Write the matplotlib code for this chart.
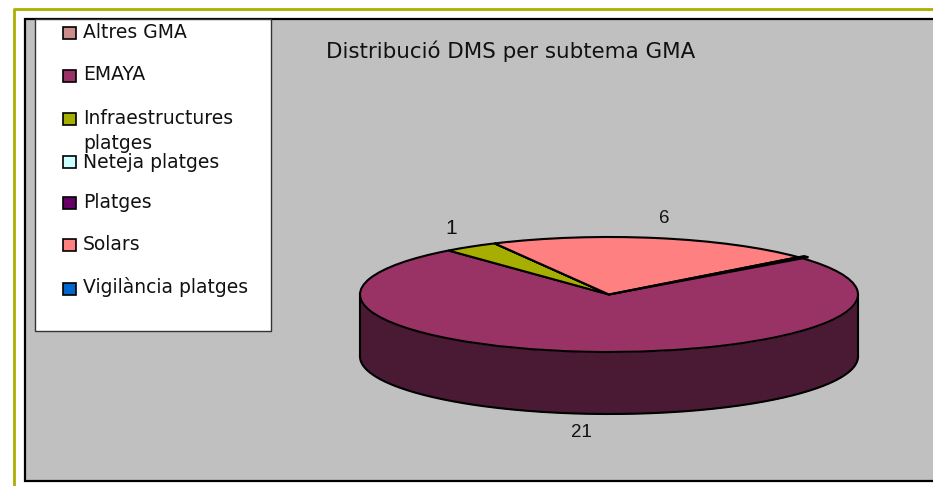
import numpy as np
import matplotlib
matplotlib.use("Agg")
import matplotlib.pyplot as plt
from matplotlib.patches import Rectangle
from matplotlib.lines import Line2D

categories = ["Altres GMA", "EMAYA", "Infraestructures\nplatges", "Neteja platges",
              "Platges", "Solars", "Vigilància platges"]
values = [0.12, 21, 1, 0, 0, 6, 0]
explode = [0.03, 0, 0, 0, 0, 0, 0]
value_labels = {"1": (451, 228), "6": (664, 218), "21": (581, 432)}
colors = ["#CC8C8C", "#993366", "#A6AF00", "#CCFFFF", "#660066", "#FF8080", "#0066CC"]
side_color = "#4A1A34"
title = "Distribució DMS per subtema GMA"

W, H = 933, 486
fig = plt.figure(figsize=(W / 100, H / 100), dpi=100, facecolor="white")
TXT = ["DejaVu Sans"]
NUM = ["Liberation Sans", "DejaVu Sans"]

bg = fig.add_axes([0, 0, 1, 1])
bg.set_xlim(0, W)
bg.set_ylim(H, 0)
bg.axis("off")

# outer olive frame and grey plot area
bg.add_line(Line2D([14, 14, W], [H, 9.5, 9.5], color="#A9B000", lw=2))
bg.add_patch(Rectangle((25, 19), W - 25 + 5, 462, fc="#C0C0C0", ec="black", lw=1.6))

# legend box
bg.add_patch(Rectangle((35, 19), 236, 312, fc="white", ec="#333333", lw=1))
sw_y = [33, 76, 119, 162, 203, 245, 289]
txt_y = [32, 75, 118, 162, 202, 244, 287]
FS = 13.5
for c, name, sy, ty in zip(colors, categories, sw_y, txt_y):
    bg.add_patch(Rectangle((62.5, sy - 6), 13, 12, fc=c, ec="black", lw=1.2))
    if "\n" in name:
        a, b = name.split("\n")
        bg.text(83, ty, a, fontsize=FS, family=TXT, va="center", ha="left", color="#111111")
        bg.text(83, ty + 25, b, fontsize=FS, family=TXT, va="center", ha="left", color="#111111")
    else:
        bg.text(83, ty, name, fontsize=FS, family=TXT, va="center", ha="left", color="#111111")

bg.text(326, 51, title, fontsize=15.4, family=TXT, va="center", ha="left", color="#111111")
for label, (x, y) in value_labels.items():
    bg.text(x, y, label, fontsize=15 if label == "1" else 13.5, family=NUM,
            va="center", ha="center", color="#111111")

# pie: ellipse centre (609, 294.5), rx 249, ry 57.5, depth 62 px
cx, cy, rx, ry, depth = 609, 294.5, 249, 57.5, 62
pad = depth + 4
ax = fig.add_axes([(cx - rx) / W, 1 - (cy + ry + pad) / H, 2 * rx / W, (2 * ry + pad) / H])
ax.patch.set_alpha(0)
ax.pie(values, colors=colors, startangle=40.5, counterclock=False, radius=1, explode=explode,
       wedgeprops=dict(edgecolor="black", linewidth=1.5, clip_on=False))
ax.set_aspect("auto")
ax.set_xlim(-1, 1)
ax.set_ylim(-1 - pad / ry, 1)
d = depth / ry
t = np.linspace(np.pi, 2 * np.pi, 300)
xs, ys = np.cos(t), np.sin(t)
ax.fill_between(xs, ys - d, ys, color=side_color, lw=0, zorder=0.5, clip_on=False)
ax.plot(xs, ys - d, color="black", lw=1.5, zorder=0.6, clip_on=False)
ax.plot([-1, -1], [0, -d], color="black", lw=1.5, zorder=0.6, clip_on=False)
ax.plot([1, 1], [0, -d], color="black", lw=1.5, zorder=0.6, clip_on=False)

fig.savefig("out.png", dpi=100, facecolor="white")
